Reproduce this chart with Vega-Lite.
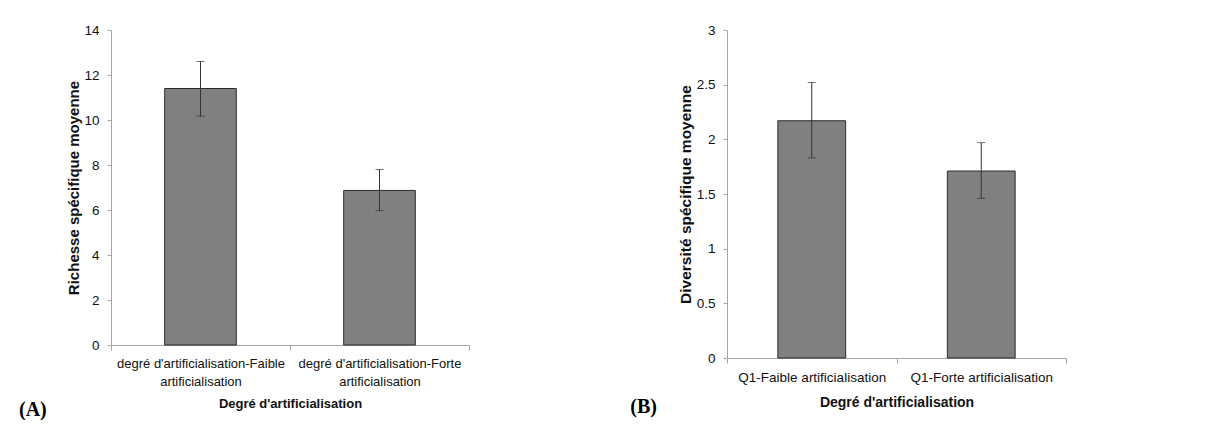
{
  "$schema": "https://vega.github.io/schema/vega-lite/v6.json",
  "background": "white",
  "padding": {"left": 18, "top": 23, "right": 0, "bottom": 0},
  "spacing": 160,
  "config": {
    "view": {"stroke": null},
    "font": "Liberation Sans",
    "axis": {
      "labelFont": "Liberation Sans",
      "labelFontSize": 13,
      "labelColor": "#111111",
      "titleFont": "Liberation Sans",
      "titleFontSize": 13,
      "titleFontWeight": "bold",
      "titleColor": "#111111",
      "domainColor": "#a6a6a6",
      "tickColor": "#a6a6a6",
      "grid": false
    }
  },
  "hconcat": [
    {
      "width": 358,
      "height": 315,
      "title": {"text": "(A)", "orient": "bottom", "anchor": "start", "font": "Liberation Serif", "fontSize": 20, "fontWeight": "bold", "color": "#000000", "dx": -48, "offset": -10},
      "data": {"values": [
        {"cat": "degré d'artificialisation-Faible artificialisation", "mean": 11.4, "lo": 10.17, "hi": 12.6},
        {"cat": "degré d'artificialisation-Forte artificialisation", "mean": 6.87, "lo": 5.97, "hi": 7.8}
      ]},
      "encoding": {
        "x": {"field": "cat", "type": "nominal", "sort": null,
          "scale": {"paddingInner": 0, "paddingOuter": 0},
          "axis": {"title": "Degré d'artificialisation", "labelAngle": 0, "tickBand": "extent", "tickSize": 5,
            "labelExpr": "[substring(datum.label, 0, lastindexof(datum.label, ' ')), substring(datum.label, lastindexof(datum.label, ' ') + 1)]",
            "labelLineHeight": 18, "labelPadding": 7, "titlePadding": 9}}
      },
      "layer": [
        {"mark": {"type": "bar", "color": "#808080", "stroke": "#2b2b2b", "strokeWidth": 1, "width": {"band": 0.4}},
          "encoding": {"y": {"field": "mean", "type": "quantitative",
            "scale": {"domain": [0, 14]},
            "axis": {"title": "Richesse spécifique moyenne", "titleFontSize": 15, "labelFontSize": 13.5, "values": [0, 2, 4, 6, 8, 10, 12, 14], "tickSize": 4, "labelPadding": 8, "titlePadding": 2}}}},
        {"mark": {"type": "rule", "color": "#333333", "strokeWidth": 1},
          "encoding": {"y": {"field": "lo", "type": "quantitative"}, "y2": {"field": "hi"}}},
        {"mark": {"type": "tick", "color": "#333333", "thickness": 1, "size": 8, "orient": "horizontal"},
          "encoding": {"y": {"field": "lo", "type": "quantitative"}}},
        {"mark": {"type": "tick", "color": "#333333", "thickness": 1, "size": 8, "orient": "horizontal"},
          "encoding": {"y": {"field": "hi", "type": "quantitative"}}}
      ]
    },
    {
      "width": 339,
      "height": 328,
      "title": {"text": "(B)", "orient": "bottom", "anchor": "start", "font": "Liberation Serif", "fontSize": 20, "fontWeight": "bold", "color": "#000000", "dx": -48, "offset": -13},
      "data": {"values": [
        {"cat": "Q1-Faible artificialisation", "mean": 2.17, "lo": 1.83, "hi": 2.52},
        {"cat": "Q1-Forte artificialisation", "mean": 1.71, "lo": 1.46, "hi": 1.97}
      ]},
      "encoding": {
        "x": {"field": "cat", "type": "nominal", "sort": null,
          "scale": {"paddingInner": 0, "paddingOuter": 0},
          "axis": {"title": "Degré d'artificialisation", "titleFontSize": 14, "labelFontSize": 13.5, "labelAngle": 0, "tickBand": "extent", "tickSize": 5,
            "labelPadding": 7, "titlePadding": 12}}
      },
      "layer": [
        {"mark": {"type": "bar", "color": "#808080", "stroke": "#2b2b2b", "strokeWidth": 1, "width": {"band": 0.4}},
          "encoding": {"y": {"field": "mean", "type": "quantitative",
            "scale": {"domain": [0, 3]},
            "axis": {"title": "Diversité spécifique moyenne", "titleFontSize": 15.5, "labelFontSize": 13.5, "values": [0, 0.5, 1, 1.5, 2, 2.5, 3], "format": "~g", "tickSize": 4, "labelPadding": 8, "titlePadding": 3}}}},
        {"mark": {"type": "rule", "color": "#333333", "strokeWidth": 1},
          "encoding": {"y": {"field": "lo", "type": "quantitative"}, "y2": {"field": "hi"}}},
        {"mark": {"type": "tick", "color": "#333333", "thickness": 1, "size": 8, "orient": "horizontal"},
          "encoding": {"y": {"field": "lo", "type": "quantitative"}}},
        {"mark": {"type": "tick", "color": "#333333", "thickness": 1, "size": 8, "orient": "horizontal"},
          "encoding": {"y": {"field": "hi", "type": "quantitative"}}}
      ]
    }
  ]
}
